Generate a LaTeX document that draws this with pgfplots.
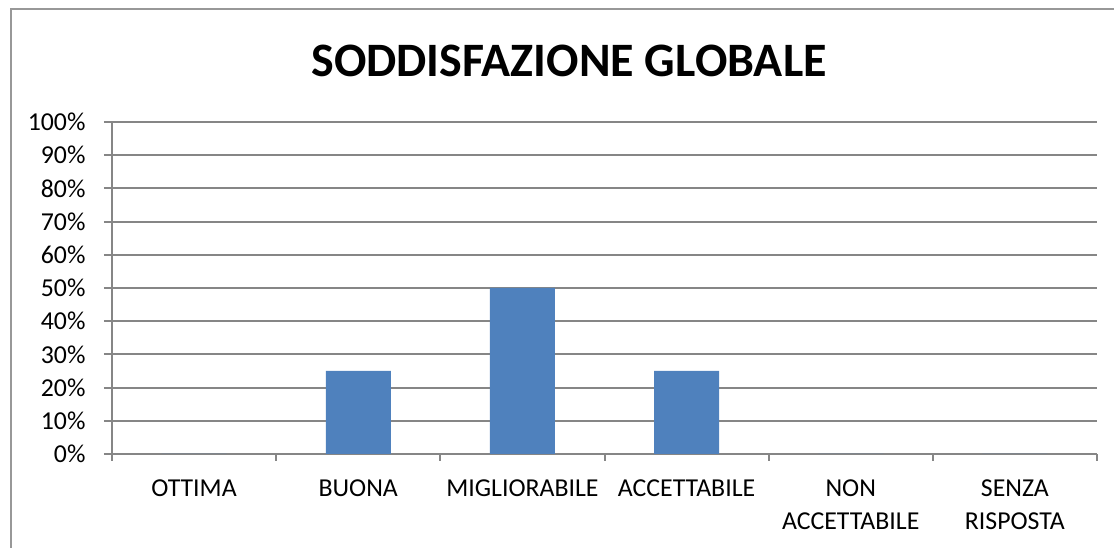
\documentclass[border=0pt]{standalone}
\usepackage{pgfplots}
\pgfplotsset{compat=1.18}
\usepackage{fontspec}
\setmainfont{Carlito}
\definecolor{barblue}{HTML}{4F81BD}
\definecolor{gridgray}{HTML}{868686}
\begin{document}
\begin{tikzpicture}[x=1bp,y=1bp]
\useasboundingbox (0,0) rectangle (1114,548);
\begin{scope}
\clip (0,0) rectangle (1114,548);
\draw[gridgray!85, line width=2bp] (11,-20) -- (11,538.5) -- (1140,538.5);
\end{scope}
\node[anchor=base, font=\bfseries\fontsize{48bp}{52bp}\selectfont] at (569,471) {SODDISFAZIONE GLOBALE};
\begin{axis}[
  at={(112bp,94bp)}, anchor=south west,
  scale only axis, width=985bp, height=332bp,
  xmin=-0.5, xmax=5.5, ymin=0, ymax=100,
  axis line style={gridgray, line width=2bp},
  axis x line*=bottom, axis y line*=left,
  ybar, bar width=65bp,
  ytick={0,10,...,100},
  yticklabel={\pgfmathprintnumber{\tick}\%},
  xtick={0,...,5},
  xticklabels={OTTIMA,BUONA,MIGLIORABILE,ACCETTABILE,NON\\ACCETTABILE,SENZA\\RISPOSTA},
  minor xtick={-0.5,0.5,...,5.5},
  ymajorgrids, major grid style={gridgray, line width=2bp},
  tick align=outside,
  major tick length=8bp, minor tick length=7bp,
  x tick style={draw=none},
  minor x tick style={draw=gridgray, line width=2bp},
  y tick style={draw=gridgray, line width=2bp},
  tick label style={font=\fontsize{25.8bp}{33bp}\selectfont, text=black},
  xticklabel style={align=center, yshift=-14bp},
  yticklabel style={xshift=-15bp},
  /pgf/number format/assume math mode=true,
  clip=false,
]
\addplot[fill=barblue, draw=none] coordinates {(0,0) (1,25) (2,50) (3,25) (4,0) (5,0)};
\end{axis}
\end{tikzpicture}
\end{document}
